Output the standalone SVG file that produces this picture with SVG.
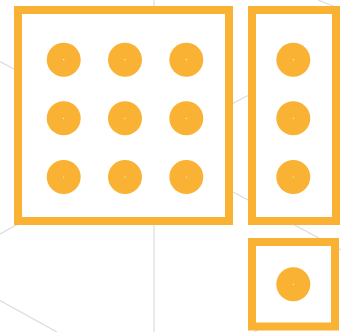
<svg xmlns="http://www.w3.org/2000/svg" width="341" height="332" viewBox="0 0 341 332">
<style>
.bg{stroke:#dcdcdc;stroke-width:1.2;fill:none}
.box{fill:#ffffff;stroke:#f9b234;stroke-width:8}
.dot{fill:#f9b234}
.pin{fill:#ffffff}
</style>
<defs>
<g id="node">
<circle class="dot" r="17"/>
<circle class="pin" r="0.6"/>
</g>
</defs>
<rect width="341" height="332" fill="#ffffff"/>
<g id="connectors">
<line class="bg" x1="154" y1="0" x2="154" y2="332"/>
<line class="bg" x1="0" y1="61.5" x2="40" y2="83"/>
<line class="bg" x1="0" y1="234" x2="40" y2="212"/>
<line class="bg" x1="220" y1="110" x2="255" y2="92"/>
<line class="bg" x1="220" y1="185" x2="341" y2="250"/>
<line class="bg" x1="0" y1="300.5" x2="57" y2="332"/>
<line class="bg" x1="318" y1="0" x2="338" y2="8"/>
<line class="bg" x1="250" y1="335" x2="262" y2="327"/>
</g>
<g id="group-3x3">
<rect class="box" x="18" y="10" width="211" height="211"/>
<use href="#node" x="63.7" y="59.7"/>
<use href="#node" x="125" y="59.7"/>
<use href="#node" x="186.3" y="59.7"/>
<use href="#node" x="63.7" y="118.3"/>
<use href="#node" x="125" y="118.3"/>
<use href="#node" x="186.3" y="118.3"/>
<use href="#node" x="63.7" y="177"/>
<use href="#node" x="125" y="177"/>
<use href="#node" x="186.3" y="177"/>
</g>
<g id="group-1x3">
<rect class="box" x="252" y="10" width="84" height="211"/>
<use href="#node" x="293.3" y="59.7"/>
<use href="#node" x="293.3" y="118.3"/>
<use href="#node" x="293.3" y="177"/>
</g>
<g id="group-1x1">
<rect class="box" x="252" y="242" width="83" height="84.5"/>
<use href="#node" x="293.3" y="284.3"/>
</g>
</svg>
